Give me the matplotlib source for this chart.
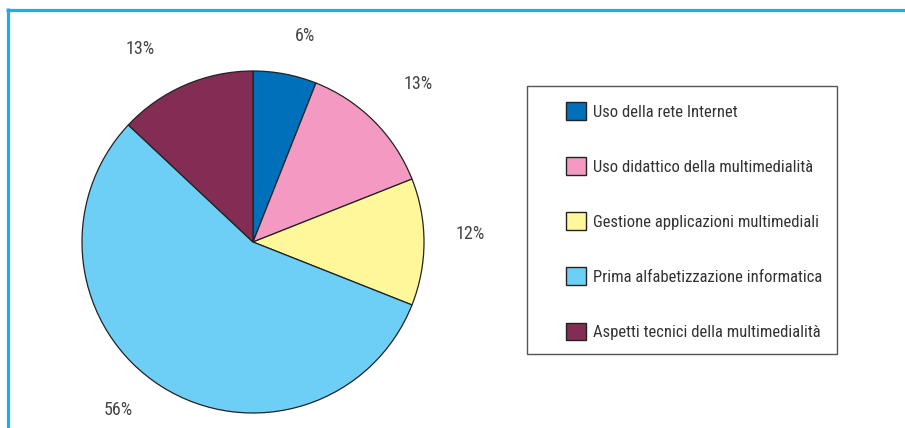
import matplotlib
matplotlib.use("Agg")
import matplotlib.pyplot as plt
from matplotlib.patches import Patch, Rectangle
from matplotlib.lines import Line2D

categories = ["Uso della rete Internet",
              "Uso didattico della multimedialità",
              "Gestione applicazioni multimediali",
              "Prima alfabetizzazione informatica",
              "Aspetti tecnici della multimedialità"]
values = [6, 13, 12, 56, 13]
labels = ["6%", "13%", "12%", "56%", "13%"]
colors = ["#0070BA", "#F49AC2", "#FFF799", "#6DCFF6", "#832D55"]

# small nudges of the percentage labels (in pie-radius units), styling only
label_nudges = [(0.066, -0.045), (0.067, 0.025), (0.0, 0.047), (-0.109, 0.09), (-0.157, -0.035)]

plt.rcParams['font.family'] = ['Roboto Condensed', 'DejaVu Sans']
W, H = 905, 428
fig = plt.figure(figsize=(W / 100, H / 100), dpi=100)
fig.patch.set_facecolor("white")

# pie axes: center (253,242) radius 171 px
r = 171
cx, cy = 253, 242
ax = fig.add_axes([(cx - r) / W, (H - cy - r) / H, 2 * r / W, 2 * r / H])
wedges, texts = ax.pie(values, labels=labels, colors=colors, startangle=90,
                       counterclock=False, labeldistance=1.27,
                       wedgeprops=dict(edgecolor="#222222", linewidth=0.9),
                       textprops=dict(fontsize=13, color="#444444"))
for t, (dx, dy) in zip(texts, label_nudges):
    x, y = t.get_position()
    t.set_position((x + dx, y + dy))
    t.set_ha("center")
    t.set_va("center")
ax.set_xlim(-1, 1)
ax.set_ylim(-1, 1)
ax.set_aspect("equal")
ax.axis("off")

# legend box
bx0, by0, bx1, by1 = 527, 86, 837, 354
fig.patches.append(Rectangle((bx0 / W, 1 - by1 / H), (bx1 - bx0) / W, (by1 - by0) / H,
                             transform=fig.transFigure, facecolor="white",
                             edgecolor="#555555", linewidth=1.0, zorder=0))

handles = [Patch(facecolor=c, edgecolor="#222222", linewidth=1.0) for c in colors]
fs = 12
fpx = fs * 100 / 72
leg = fig.legend(handles, categories, loc="upper left",
                 bbox_to_anchor=(566 / W, 1 - 102.5 / H), frameon=False,
                 borderpad=0, borderaxespad=0, handlelength=20 / fpx,
                 handleheight=20 / fpx,
                 handletextpad=0.4, labelspacing=2.27, fontsize=fs,
                 labelcolor="#333333")

# cyan frame
fig.add_artist(Line2D([6 / W, 1], [1 - 9.5 / H, 1 - 9.5 / H], transform=fig.transFigure,
                      color="#1AB0E8", linewidth=2.3, solid_capstyle="butt"))
fig.add_artist(Line2D([7.5 / W, 7.5 / W], [0, 1 - 8 / H], transform=fig.transFigure,
                      color="#1AB0E8", linewidth=2.3, solid_capstyle="butt"))

fig.savefig("out.png", dpi=100, facecolor="white")
